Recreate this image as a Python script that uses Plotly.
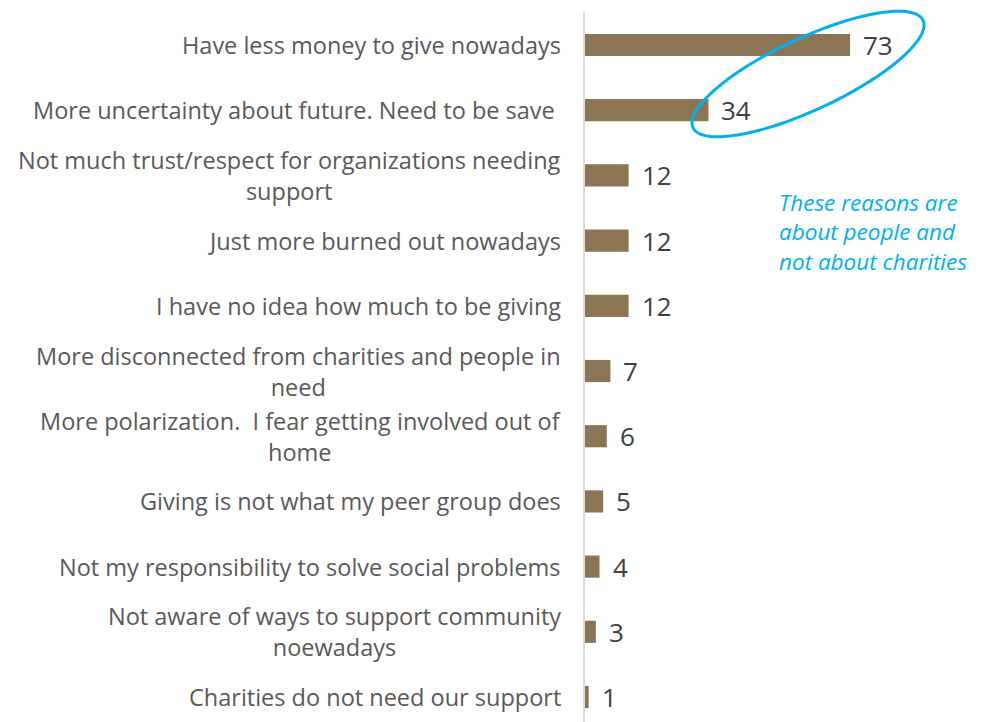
import math
import plotly.graph_objects as go

# Survey responses: reasons for giving less
reasons = [
    "Have less money to give nowadays",
    "More uncertainty about future. Need to be save ",
    "Not much trust/respect for organizations needing<br>support",
    "Just more burned out nowadays",
    "I have no idea how much to be giving",
    "More disconnected from charities and people in<br>need",
    "More polarization.  I fear getting involved out of<br>home",
    "Giving is not what my peer group does",
    "Not my responsibility to solve social problems",
    "Not aware of ways to support community<br>noewadays",
    "Charities do not need our support",
]
counts = [73, 34, 12, 12, 12, 7, 6, 5, 4, 3, 1]

callout = "These reasons are<br>about people and<br>not about charities"

BAR_COLOR = "#8B7555"
LABEL_COLOR = "#595959"
VALUE_COLOR = "#404040"
ACCENT = "#00B0F0"
FONT = "Open Sans"

W, H = 991, 722
ML, MR, MT, MB = 585, 0, 12, 0
X_MAX = 111.8

fig = go.Figure(
    go.Bar(
        x=counts,
        y=reasons,
        orientation="h",
        marker=dict(color=BAR_COLOR, line=dict(width=0)),
        width=0.34,
        hoverinfo="x+y",
    )
)

annotations = []
for r, c in zip(reasons, counts):
    # category label, centred lines, right-aligned block next to the axis
    annotations.append(dict(
        x=0, xref="paper", y=r, yref="y", text=r, showarrow=False,
        xanchor="right", yanchor="middle", align="center", xshift=-22,
        font=dict(family=FONT, size=23.5, color=LABEL_COLOR),
    ))
    # value label just past the end of the bar
    annotations.append(dict(
        x=c, xref="x", y=r, yref="y", text=str(c), showarrow=False,
        xanchor="left", yanchor="middle", xshift=11,
        font=dict(family=FONT, size=26, color=VALUE_COLOR),
    ))

annotations.append(dict(
    x=(777 - ML) / (W - ML - MR), xref="paper",
    y=(H - MB - 232) / (H - MT - MB), yref="paper",
    text=callout, showarrow=False, xanchor="left", yanchor="middle",
    align="left",
    font=dict(family=FONT, size=22.5, color=ACCENT, style="italic"),
))


def px_to_paper(px, py):
    return (px - ML) / (W - ML - MR), (H - MB - py) / (H - MT - MB)


# Tilted ellipse around the two leading reasons
cx, cy, a, b, theta = 808, 74, 127, 36, math.radians(-25)
pts = []
for i in range(73):
    t = 2 * math.pi * i / 72
    ex, ey = a * math.cos(t), b * math.sin(t)
    px = cx + ex * math.cos(theta) - ey * math.sin(theta)
    py = cy + ex * math.sin(theta) + ey * math.cos(theta)
    pts.append(px_to_paper(px, py))
path = "M " + " L ".join(f"{x:.4f},{y:.4f}" for x, y in pts) + " Z"

fig.update_layout(
    width=W, height=H,
    margin=dict(l=ML, r=MR, t=MT, b=MB, pad=0),
    paper_bgcolor="white", plot_bgcolor="white",
    showlegend=False,
    xaxis=dict(range=[0, X_MAX], visible=False, fixedrange=True),
    yaxis=dict(
        categoryorder="array", categoryarray=reasons,
        range=[10.383, -0.506],
        showticklabels=False, ticks="",
        showgrid=False, zeroline=False,
        showline=True, linecolor="#D9D9D9", linewidth=2,
        fixedrange=True,
    ),
    annotations=annotations,
    shapes=[dict(
        type="path", path=path, xref="paper", yref="paper",
        line=dict(color=ACCENT, width=3), fillcolor="rgba(0,0,0,0)",
        layer="above",
    )],
)

fig.write_html("out.html", config={"displayModeBar": False})
